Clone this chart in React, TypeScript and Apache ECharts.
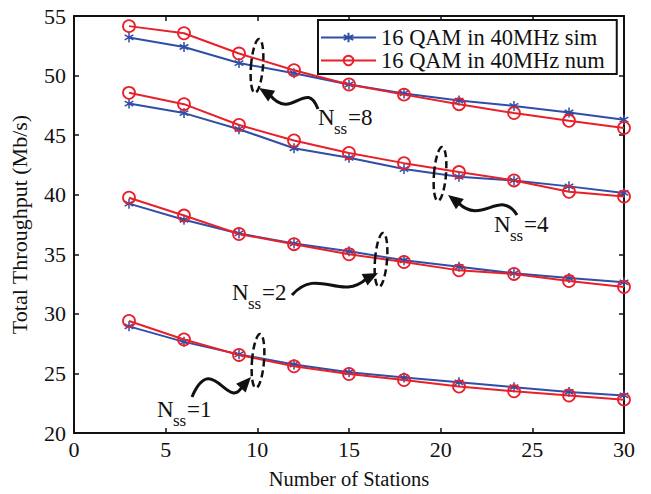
import React, { useEffect, useRef } from "react";
import * as echarts from "echarts";

const stations = [3, 6, 9, 12, 15, 18, 21, 24, 27, 30];
const sim8 = [53.2, 52.4, 51.05, 50.2, 49.25, 48.5, 47.9, 47.45, 46.9, 46.3];
const num8 = [54.15, 53.55, 51.85, 50.45, 49.25, 48.4, 47.6, 46.85, 46.2, 45.6];
const sim4 = [47.65, 46.85, 45.5, 43.9, 43.1, 42.15, 41.5, 41.2, 40.7, 40.15];
const num4 = [48.55, 47.6, 45.85, 44.55, 43.5, 42.65, 41.9, 41.2, 40.25, 39.85];
const sim2 = [39.25, 37.9, 36.75, 35.9, 35.25, 34.5, 33.95, 33.4, 33.0, 32.65];
const num2 = [39.75, 38.25, 36.7, 35.85, 35.0, 34.35, 33.65, 33.35, 32.75, 32.25];
const sim1 = [28.95, 27.65, 26.6, 25.75, 25.1, 24.65, 24.25, 23.85, 23.45, 23.15];
const num1 = [29.4, 27.85, 26.55, 25.6, 24.95, 24.45, 23.9, 23.5, 23.15, 22.8];

const simName = "16 QAM in 40MHz sim";
const numName = "16 QAM in 40MHz num";
const xLabel = "Number of Stations";
const yLabel = "Total Throughput (Mb/s)";

const BLUE = "#2F4EA8";
const RED = "#E8202A";
const FONT = "Liberation Serif";

const ASTERISK = "path://M5,0L5,10M0.67,2.5L9.33,7.5M0.67,7.5L9.33,2.5";

function pairs(ys: number[]) {
  return stations.map((x, i) => [x, ys[i]]);
}

function simSeries(ys: number[]) {
  return {
    type: "line",
    name: simName,
    data: pairs(ys),
    symbol: ASTERISK,
    symbolKeepAspect: true,
    symbolSize: 10,
    lineStyle: { color: BLUE, width: 2 },
    itemStyle: { color: BLUE, borderColor: BLUE, borderWidth: 1.5 },
    z: 2,
  };
}

function numSeries(ys: number[]) {
  return {
    type: "line",
    name: numName,
    data: pairs(ys),
    symbol: "circle",
    symbolSize: 12,
    lineStyle: { color: RED, width: 2 },
    itemStyle: { color: "rgba(0,0,0,0)", borderColor: RED, borderWidth: 1.8 },
    z: 3,
  };
}

type P = [number, number];

function arrow(start: P, cp1: P, cp2: P, end: P, tip: P) {
  const dx = tip[0] - end[0];
  const dy = tip[1] - end[1];
  const len = Math.sqrt(dx * dx + dy * dy) || 1;
  const ux = dx / len;
  const uy = dy / len;
  const headLen = 15;
  const hw = 6.5;
  const bx = tip[0] - ux * headLen;
  const by = tip[1] - uy * headLen;
  return [
    {
      type: "bezierCurve",
      shape: {
        x1: start[0], y1: start[1],
        cpx1: cp1[0], cpy1: cp1[1],
        cpx2: cp2[0], cpy2: cp2[1],
        x2: bx + ux * 2, y2: by + uy * 2,
      },
      style: { stroke: "#111", lineWidth: 3, fill: "none" },
      z: 10,
    },
    {
      type: "polygon",
      shape: {
        points: [
          [tip[0], tip[1]],
          [bx - uy * hw, by + ux * hw],
          [bx + uy * hw, by - ux * hw],
        ],
      },
      style: { fill: "#111" },
      z: 10,
    },
  ];
}

function dashedEllipse(cx: number, cy: number) {
  return {
    type: "ellipse",
    x: cx,
    y: cy,
    rotation: -0.08,
    shape: { cx: 0, cy: 0, rx: 6, ry: 27 },
    style: { stroke: "#111", lineWidth: 2.5, fill: "none", lineDash: [7, 4] },
    z: 10,
  };
}

function nssLabel(x: number, y: number, val: string) {
  return [
    {
      type: "text", x, y, z: 10,
      style: { text: "N", fontSize: 23, fontFamily: FONT, fill: "#111", verticalAlign: "middle", align: "left" },
    },
    {
      type: "text", x: x + 16, y: y + 11, z: 10,
      style: { text: "ss", fontSize: 17, fontFamily: FONT, fill: "#111", verticalAlign: "middle", align: "left" },
    },
    {
      type: "text", x: x + 30, y, z: 10,
      style: { text: "=" + val, fontSize: 23, fontFamily: FONT, fill: "#111", verticalAlign: "middle", align: "left" },
    },
  ];
}

export default function App() {
  const ref = useRef<HTMLDivElement>(null);
  useEffect(() => {
    if (!ref.current) return;
    const chart = echarts.init(ref.current, null, { renderer: "svg" });
    const axisCommon = {
      axisLine: { show: true, onZero: false, lineStyle: { color: "#111", width: 2 } },
      axisTick: { show: true, inside: true, length: 5, lineStyle: { color: "#111", width: 1.5 } },
      splitLine: { show: false },
    };
    const labelStyle = { color: "#111", fontSize: 22, fontFamily: FONT };
    const option: any = {
      animation: false,
      backgroundColor: "#fff",
      grid: { left: 72, right: 27, top: 16, bottom: 57 },
      xAxis: [
        {
          type: "value", min: 0, max: 30, interval: 5, position: "bottom",
          ...axisCommon,
          axisLabel: { ...labelStyle, margin: 5 },
          name: xLabel, nameLocation: "middle", nameGap: 35,
          nameTextStyle: { color: "#111", fontSize: 20.5, fontFamily: FONT },
        },
        {
          type: "value", min: 0, max: 30, interval: 5, position: "top",
          ...axisCommon, axisLabel: { show: false },
        },
      ],
      yAxis: [
        {
          type: "value", min: 20, max: 55, interval: 5, position: "left",
          ...axisCommon,
          axisLabel: { ...labelStyle, margin: 8 },
          name: yLabel, nameLocation: "middle", nameGap: 44, nameRotate: 90,
          nameTextStyle: { color: "#111", fontSize: 22, fontFamily: FONT },
        },
        {
          type: "value", min: 20, max: 55, interval: 5, position: "right",
          ...axisCommon, axisLabel: { show: false },
        },
      ],
      legend: {
        data: [simName, numName],
        orient: "vertical",
        left: 318,
        top: 20,
        padding: [6, 12, 2, 2],
        itemGap: 0,
        itemWidth: 55,
        itemHeight: 12,
        borderColor: "#111",
        borderWidth: 2,
        backgroundColor: "#fff",
        textStyle: { color: "#111", fontSize: 22.5, fontFamily: FONT, lineHeight: 22 },
      },
      series: [
        simSeries(sim8), simSeries(sim4), simSeries(sim2), simSeries(sim1),
        numSeries(num8), numSeries(num4), numSeries(num2), numSeries(num1),
      ],
      graphic: [
        dashedEllipse(257, 66),
        ...arrow([318, 109], [306, 78], [292, 122], [273, 97], [259, 88]),
        ...nssLabel(318, 117, "8"),
        dashedEllipse(440, 174),
        ...arrow([517, 215], [500, 188], [482, 226], [461, 205], [448, 195]),
        ...nssLabel(494, 224, "4"),
        dashedEllipse(381, 260),
        ...arrow([292, 295], [318, 266], [340, 302], [362, 281], [378, 273]),
        ...nssLabel(232, 292, "2"),
        dashedEllipse(258, 361),
        ...arrow([192, 397], [212, 350], [228, 412], [240, 389], [251, 377]),
        ...nssLabel(157, 409, "1"),
      ],
    };
    chart.setOption(option);
    return () => chart.dispose();
  }, []);
  return (
    <div
      ref={ref}
      style={{ position: "fixed", left: 0, top: 0, width: 651, height: 494 }}
    />
  );
}
